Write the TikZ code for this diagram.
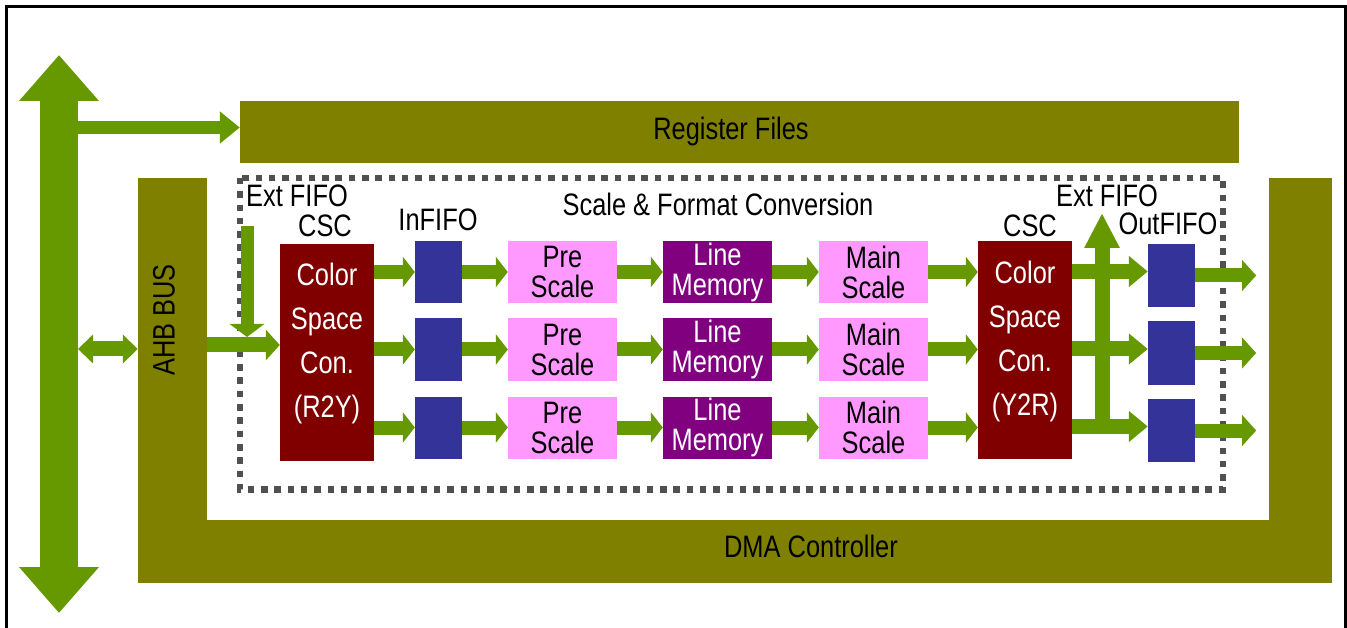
\documentclass[tikz,border=0pt]{standalone}
\usepackage{fontspec}
\setmainfont{Liberation Sans}[FakeStretch=0.82]
\usepackage{tikz}
\usetikzlibrary{arrows.meta, positioning}

\definecolor{flowgreen}{HTML}{669900}
\definecolor{busolive}{HTML}{808000}
\definecolor{cscred}{HTML}{800000}
\definecolor{fifoblue}{HTML}{333399}
\definecolor{scalepink}{HTML}{FF99FF}
\definecolor{mempurple}{HTML}{800080}
\definecolor{dotgray}{HTML}{505050}

\tikzset{
  bar/.style={fill=busolive, draw=none, inner sep=0pt},
  lbl/.style={font=\fontsize{31}{31}\selectfont, inner sep=0pt},
  cscbox/.style={fill=cscred, minimum width=94pt, minimum height=217pt, inner sep=0pt},
  csctxt/.style={text=white, align=center, inner sep=0pt, font=\fontsize{31}{44}\selectfont},
  fifobox/.style={fill=fifoblue, minimum width=47pt, minimum height=62pt, inner sep=0pt},
  scalebox/.style={fill=scalepink, minimum width=109pt, minimum height=62pt,
    align=center, inner sep=0pt, font=\fontsize{31}{30}\selectfont},
  membox/.style={scalebox, fill=mempurple, text=white},
  flow/.style={draw=flowgreen, line width=14pt, -{Triangle[width=30pt,length=12pt]}},
}

\begin{document}
\begin{tikzpicture}[x=1pt, y=-1pt]
  \useasboundingbox (0,0) rectangle (1347,628);
  % outer frame, open at the bottom edge
  \draw[line width=3pt] (6,640) -- (6,7) -- (1345,7) -- (1345,640);

  % bus arrow at the far left
  \coordinate (busTop) at (59,55);
  \coordinate (busBot) at (59,613);
  \coordinate (busR) at (78,0);
  \draw[draw=flowgreen, line width=38pt,
    {Triangle[width=77pt,length=46pt]}-{Triangle[width=77pt,length=46pt]}] (busTop) -- (busBot);

  % register files and the DMA frame
  \node[bar, minimum width=999pt, minimum height=62pt] (regs) at (739.5,132) {};
  \node[lbl] (regstxt) at (731,131) {Register Files};
  \node[bar, minimum width=69pt, minimum height=405pt] (ahb) at (172.5,380.5) {};
  \node[bar, minimum width=1125pt, minimum height=63pt] (dma) at (769.5,551.5) {};
  \node[bar, minimum width=63pt, minimum height=342pt] (dmaR) at (1300.5,349) {};
  \node[lbl, rotate=90] (ahbtxt) at (164,320) {AHB BUS};
  \node[lbl] (dmatxt) at (811,546) {DMA Controller};

  % scale & format conversion block
  \draw[dotgray, line width=6.5pt, dash pattern=on 6.5pt off 6.8pt] (240,178) rectangle (1223,489.5);
  \node[lbl, anchor=base] (sfc) at (718,216) {Scale \& Format Conversion};
  \node[lbl, anchor=base] (extL) at (297,207) {Ext FIFO};
  \node[lbl, anchor=base] (cscL) at (325,237) {CSC};
  \node[lbl, anchor=base] (infifo) at (438,231) {InFIFO};
  \node[lbl, anchor=base] (extR) at (1107,207) {Ext FIFO};
  \node[lbl, anchor=base] (cscR) at (1030,237) {CSC};
  \node[lbl, anchor=base] (outfifo) at (1168,235) {OutFIFO};

  \node[cscbox] (csc1) at (327,352.5) {};
  \node[csctxt] (csc1txt) at ([yshift=9pt]csc1.center) {Color\\Space\\Con.\\(R2Y)};
  \node[cscbox] (csc2) at (1025,350) {};
  \node[csctxt] (csc2txt) at ([yshift=9pt]csc2.center) {Color\\Space\\Con.\\(Y2R)};

  \foreach \r/\y/\yo in {1/272/275.5, 2/349.5/353, 3/427.5/430.5} {
    \node[fifobox] (in\r) at (438.5,\y) {};
    \node[scalebox] (pre\r) at (562.5,\y) {Pre\\Scale};
    \node[membox] (mem\r) at (717.5,\y) {Line\\Memory};
    \node[scalebox] (main\r) at (873.5,\y) {Main\\Scale};
    \node[fifobox, minimum height=63pt] (out\r) at (1171.5,\yo) {};
    \path (out\r.east) ++(61,0) coordinate (sink\r);
    \draw[flow] (csc1.east |- in\r) -- (in\r);
    \draw[flow] (in\r) -- (pre\r);
    \draw[flow] (pre\r) -- (mem\r);
    \draw[flow] (mem\r) -- (main\r);
    \draw[flow] (main\r) -- (csc2.west |- main\r);
    \draw[flow, line width=15pt, -{Triangle[width=30pt,length=19pt]}] ([yshift=4pt]csc2.east |- out\r) -- ([yshift=4pt]out\r.west);
    \draw[flow, -{Triangle[width=30pt,length=14pt]}] (out\r) -- (sink\r);
  }

  % ext FIFO taps
  \coordinate (extOut) at (1102,213);
  \draw[flow, line width=15pt, -{Triangle[width=33pt,length=35pt]}] ([yshift=4pt]extOut |- out3) -- (extOut);
  \coordinate (extIn) at (247,226);
  \coordinate (extInTip) at (247,337);
  \draw[flow, line width=13pt, -{Triangle[width=34pt,length=13pt]}] (extIn) -- (extInTip);

  % bus connections
  \draw[flow, line width=15pt, -{Triangle[width=30pt,length=14pt]}] (ahb.east |- 0,345) -- (csc1.west |- 0,345);
  \draw[flow, line width=15pt, {Triangle[width=28pt,length=15pt]}-{Triangle[width=28pt,length=15pt]}] (busR |- 0,349) -- (ahb.west |- 0,349);
  \draw[flow, line width=13pt, -{Triangle[width=31pt,length=20pt]}] ([yshift=4.5pt]busR |- regs.west) -- ([yshift=4.5pt]regs.west);
\end{tikzpicture}
\end{document}
